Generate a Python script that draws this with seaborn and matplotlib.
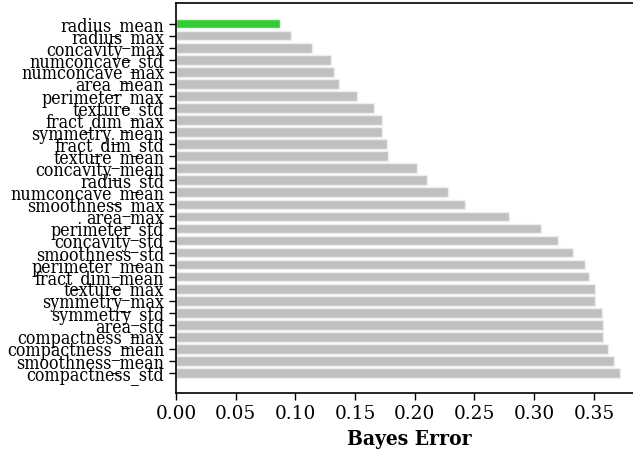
import matplotlib
matplotlib.use("Agg")
import matplotlib.pyplot as plt
import seaborn as sns
import pandas as pd

features = ["radius_mean", "radius_max", "concavity_max", "numconcave_std", "numconcave_max",
            "area_mean", "perimeter_max", "texture_std", "fract_dim_max", "symmetry_mean",
            "fract_dim_std", "texture_mean", "concavity_mean", "radius_std", "numconcave_mean",
            "smoothness_max", "area_max", "perimeter_std", "concavity_std", "smoothness_std",
            "perimeter_mean", "fract_dim_mean", "texture_max", "symmetry_max", "symmetry_std",
            "area_std", "compactness_max", "compactness_mean", "smoothness_mean", "compactness_std"]
errors = [0.0871, 0.0963, 0.1138, 0.1298, 0.1323, 0.1362, 0.1519, 0.1655, 0.1725, 0.1725,
          0.1770, 0.1776, 0.2021, 0.2098, 0.2280, 0.2420, 0.2789, 0.3057, 0.3199, 0.3322,
          0.3425, 0.3456, 0.3509, 0.3512, 0.3568, 0.3573, 0.3576, 0.3618, 0.3666, 0.3722]
xticks = [0.00, 0.05, 0.10, 0.15, 0.20, 0.25, 0.30, 0.35]

sns.set_style("ticks")
plt.rcParams["font.family"] = ["DejaVu Serif"]
plt.rcParams["text.color"] = "black"
plt.rcParams["axes.labelcolor"] = "black"
plt.rcParams["xtick.color"] = "black"
plt.rcParams["ytick.color"] = "black"

df = pd.DataFrame({"feature": features, "error": errors})
colors = ["#32cd32"] + ["#c0c0c0"] * (len(features) - 1)

W, H = 633, 458
fig = plt.figure(figsize=(W / 100, H / 100), dpi=100)
x0, x1 = 176, 176 + 0.39 * 1194
y_top, y_bot = 3, 393.3
ax = fig.add_axes([x0 / W, 1 - y_bot / H, (x1 - x0) / W, (y_bot - y_top) / H])

sns.barplot(data=df, x="error", y="feature", hue="feature", palette=colors, legend=False,
            orient="h", width=0.8, edgecolor="#eeeeee", linewidth=1, saturation=1, ax=ax)

n = len(features)
ax.set_ylim(n - 1 + 1.68, -1.71)
ax.set_xlim(0, 0.39)
ax.set_xticks(xticks)
ax.set_xticklabels([f"{v:.2f}" for v in xticks])
ax.tick_params(axis="both", length=5, width=1, color="black", labelcolor="black")
ax.tick_params(axis="x", labelsize=13.3)
for lab in ax.get_yticklabels():
    lab.set_fontsize(12.8)
    lab.set_fontstretch("condensed")
ax.set_xlabel("Bayes Error", fontsize=15, fontweight="bold", fontstretch="condensed",
              color="black")
ax.set_ylabel("")
for s in ax.spines.values():
    s.set_color("black")
    s.set_linewidth(1.2)

fig.savefig("out.png", dpi=100)
